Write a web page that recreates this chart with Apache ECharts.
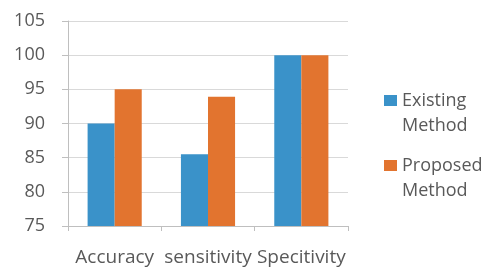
<!DOCTYPE html>
<html>
<head>
<meta charset="utf-8">
<script src="https://cdn.jsdelivr.net/npm/echarts@6/dist/echarts.min.js"></script>
<style>
  html, body { margin: 0; padding: 0; background: #fff; }
  #main { width: 494px; height: 270px; }
</style>
</head>
<body>
<div id="main"></div>
<script>
var categories = ['Accuracy', 'sensitivity', 'Specitivity']
var existing = [90, 85.5, 100]
var proposed = [95, 93.9, 100]
var seriesNames = ['Existing Method', 'Proposed Method']

var mychart = echarts.init(document.getElementById('main'))

// square sits on the first text line, tiny dots stretch the box to the text height
var legendIcon = 'path://M0,0h0.01v0.01h-0.01zM0,7h13v11h-13zM0,50h0.01v0.01h-0.01z'

var option = {
  animation: false,
  color: ['#3a92c9', '#e2742f'],
  textStyle: { fontFamily: 'Open Sans', color: '#595959' },
  grid: { left: 68, right: 146, top: 21, bottom: 44 },
  legend: {
    orient: 'vertical',
    left: 384,
    top: 88,
    padding: 0,
    itemWidth: 13,
    itemHeight: 50,
    itemGap: 15,
    itemTextGap: 6,
    icon: legendIcon,
    formatter: function (name) { return name.replace(' ', '\n') },
    textStyle: { fontSize: 18, color: '#595959', lineHeight: 25, fontFamily: 'Open Sans' },
    data: seriesNames
  },
  xAxis: {
    type: 'category',
    data: categories,
    axisLine: { lineStyle: { color: '#bfbfbf' } },
    axisTick: { show: true, length: 5, lineStyle: { color: '#bfbfbf' } },
    axisLabel: { interval: 0, fontSize: 19, color: '#595959', margin: 22 }
  },
  yAxis: {
    type: 'value',
    min: 75,
    max: 105,
    interval: 5,
    axisLine: { show: true, lineStyle: { color: '#bfbfbf' } },
    axisTick: { show: true, length: 6, lineStyle: { color: '#bfbfbf' } },
    axisLabel: { fontSize: 18, color: '#595959', margin: 23 },
    splitLine: { lineStyle: { color: '#d9d9d9' } }
  },
  series: [
    { name: seriesNames[0], type: 'bar', data: existing, barGap: '0%', barCategoryGap: '42%' },
    { name: seriesNames[1], type: 'bar', data: proposed, barGap: '0%', barCategoryGap: '42%' }
  ]
}

option && mychart.setOption(option)
</script>
</body>
</html>
